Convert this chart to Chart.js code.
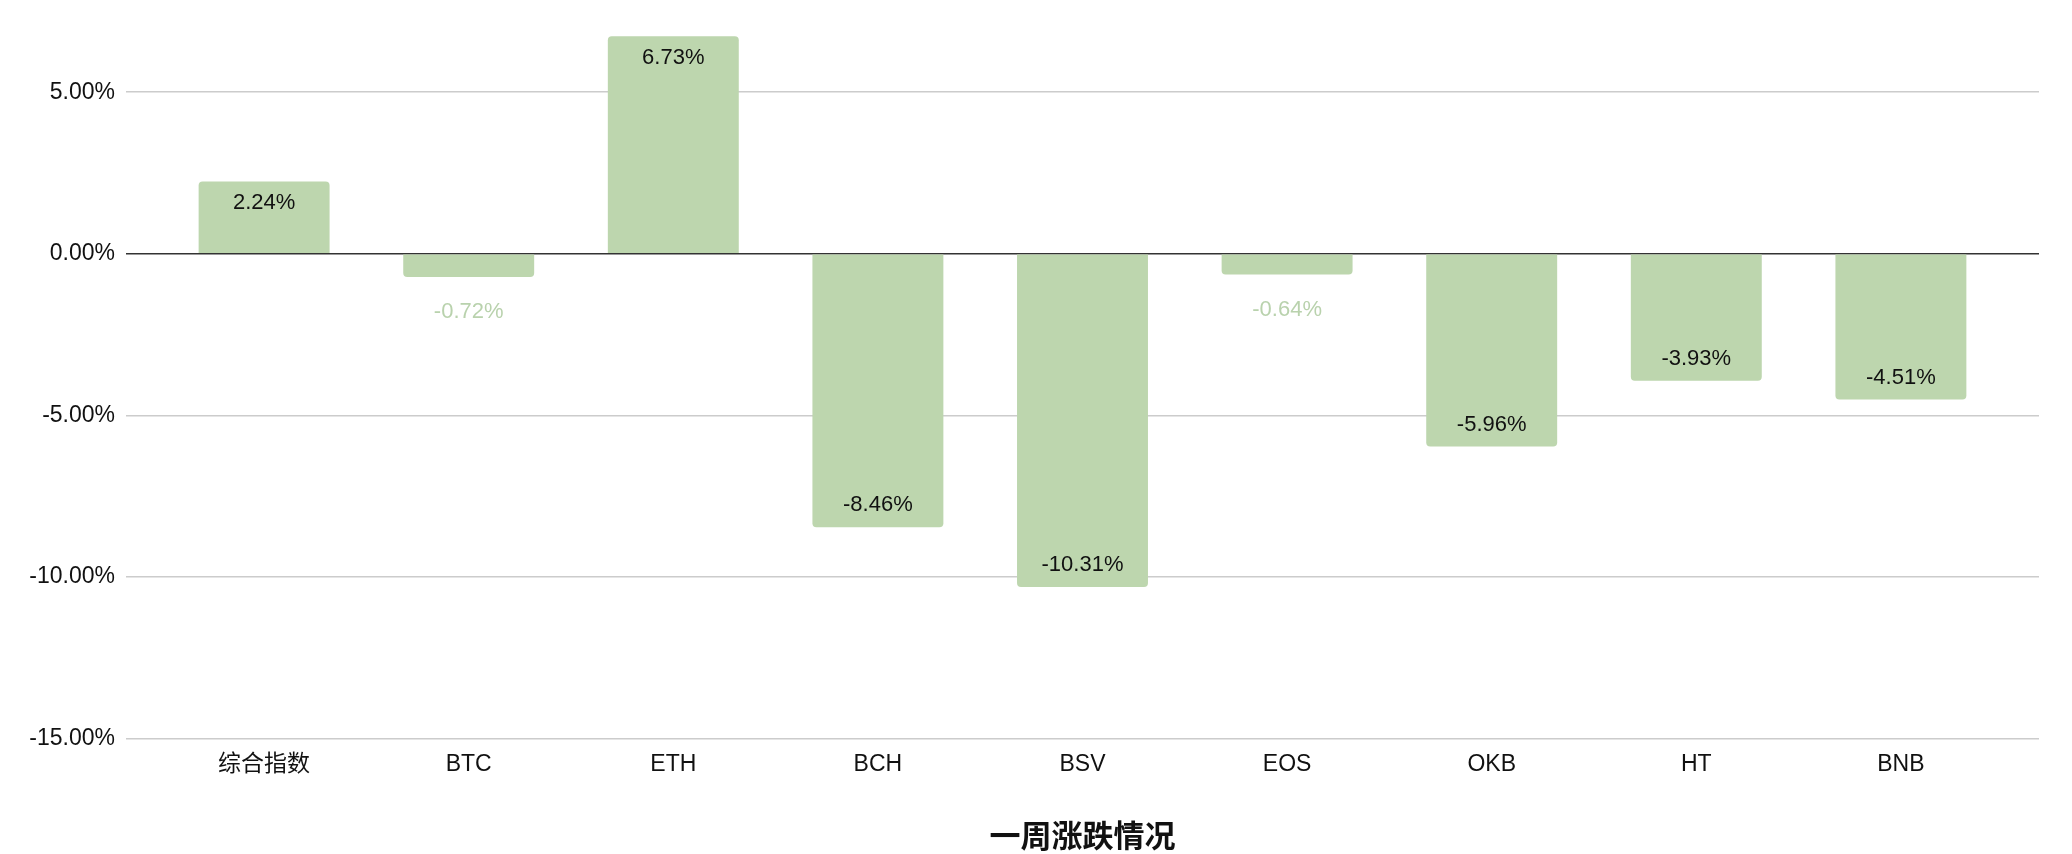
<!DOCTYPE html>
<html lang="zh">
<head>
    <meta charset="UTF-8" />
    <title>一周涨跌情况</title>
    <script src="https://cdn.jsdelivr.net/npm/chart.js@4.4.1/dist/chart.umd.min.js"></script>
    <style>
        body {
            margin: 0;
            background: #ffffff;
        }
        #wrap {
            width: 2072px;
            height: 854px;
        }
    </style>
</head>
<body>
    <div id="wrap"><canvas id="chart"></canvas></div>

    <script>
        // === Data ===
        const categories = ["综合指数", "BTC", "ETH", "BCH", "BSV", "EOS", "OKB", "HT", "BNB"];
        const changes = [2.24, -0.72, 6.73, -8.46, -10.31, -0.64, -5.96, -3.93, -4.51];
        const yTicks = [-15, -10, -5, 0, 5];
        const axisTitle = "一周涨跌情况";

        const FONT = "'Liberation Sans', Arial, 'Noto Sans CJK SC', sans-serif";
        const BAR_COLOR = "#bdd6ae";

        // value labels drawn at the bar ends (inside when the bar is tall enough)
        const valueLabels = {
            id: "valueLabels",
            afterDatasetsDraw(chart) {
                const ctx = chart.ctx;
                const meta = chart.getDatasetMeta(0);
                ctx.save();
                ctx.font = "22px " + FONT;
                ctx.textAlign = "center";
                ctx.textBaseline = "middle";
                meta.data.forEach((bar, i) => {
                    const v = changes[i];
                    const h = Math.abs(bar.base - bar.y);
                    const text = v.toFixed(2) + "%";
                    let y;
                    if (h > 40) {
                        ctx.fillStyle = "#111111";
                        y = v >= 0 ? bar.y + 22 : bar.y - 22;
                    } else {
                        ctx.fillStyle = "#b9d2ad";
                        y = v >= 0 ? bar.y - 35 : bar.y + 35;
                    }
                    ctx.fillText(text, bar.x, y);
                });
                ctx.restore();
            }
        };

        new Chart(document.getElementById("chart"), {
            type: "bar",
            data: {
                datasets: [{
                    data: changes.map((v, i) => ({ x: i, y: v })),
                    backgroundColor: BAR_COLOR,
                    borderRadius: 4,
                    borderSkipped: "start",
                    categoryPercentage: 1,
                    barPercentage: 0.64
                }]
            },
            options: {
                responsive: true,
                maintainAspectRatio: false,
                animation: false,
                layout: { padding: { top: 27.6, right: 33, bottom: 0, left: 0 } },
                plugins: {
                    legend: { display: false },
                    tooltip: { enabled: false }
                },
                scales: {
                    x: {
                        type: "linear",
                        offset: false,
                        min: -0.675,
                        max: 8.675,
                        grid: { display: false },
                        border: { display: false },
                        afterBuildTicks: (s) => { s.ticks = categories.map((_, i) => ({ value: i })); },
                        afterFit: (s) => { s.height = 115.4; },
                        ticks: {
                            autoSkip: false,
                            maxRotation: 0,
                            padding: 4,
                            color: "#111111",
                            font: { size: 23, family: FONT },
                            callback: (value) => categories[value] ?? ""
                        },
                        title: {
                            display: true,
                            text: axisTitle,
                            color: "#111111",
                            padding: { top: 0, bottom: 0 },
                            font: { size: 31, weight: "bold", family: FONT, lineHeight: 1.0 }
                        }
                    },
                    y: {
                        min: -15,
                        max: 7,
                        afterBuildTicks: (s) => { s.ticks = yTicks.map((v) => ({ value: v })); },
                        afterFit: (s) => { s.width = 126; },
                        border: { display: false },
                        grid: {
                            drawTicks: false,
                            lineWidth: 1.5,
                            color: (c) => (c.tick && c.tick.value === 0 ? "#333333" : "#cccccc")
                        },
                        ticks: {
                            padding: 11,
                            color: "#111111",
                            font: { size: 23, family: FONT },
                            callback: (value) => value.toFixed(2) + "%"
                        }
                    }
                }
            },
            plugins: [valueLabels]
        });
    </script>
</body>
</html>
